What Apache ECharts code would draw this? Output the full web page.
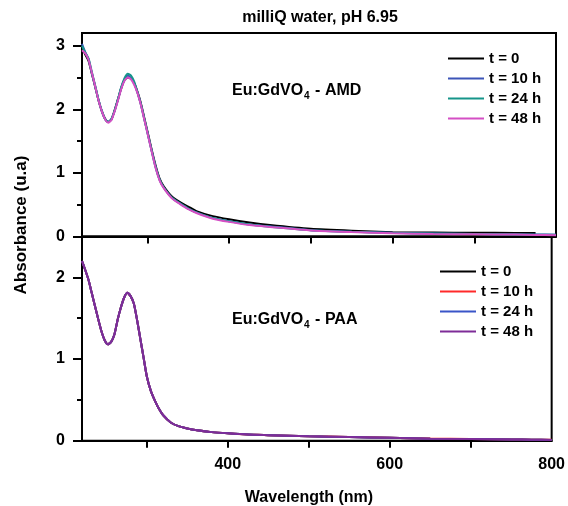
<!DOCTYPE html>
<html>
<head>
<meta charset="utf-8">
<script src="https://cdn.jsdelivr.net/npm/echarts@6/dist/echarts.min.js"></script>
<style>
  html, body { margin: 0; padding: 0; background: #fff; }
  #main { width: 568px; height: 506px; }
</style>
</head>
<body>
<div id="main"></div>
<script>
// wavelengths (nm)
var wl = [220, 224, 228, 232, 236, 240, 244, 248, 252, 256, 260, 264, 268, 272, 276, 280, 284, 288, 292, 296,
          300, 305, 310, 315, 320, 330, 340, 350, 360, 380, 400, 425, 450, 500, 550, 600, 650, 700, 750, 775, 800];

// Eu:GdVO4 - AMD
var amdNames = ['t = 0', 't = 10 h', 't = 24 h', 't = 48 h'];
var amdColors = ['#000000', '#3c55b8', '#16958a', '#d44fc4'];
var amd_t0 = [2.97, 2.86, 2.76, 2.56, 2.36, 2.15, 1.98, 1.86, 1.80, 1.84, 1.99, 2.16, 2.33, 2.46, 2.50, 2.48, 2.41, 2.27, 2.10, 1.88,
              1.66, 1.38, 1.12, 0.91, 0.79, 0.63, 0.54, 0.47, 0.40, 0.32, 0.27, 0.22, 0.18, 0.12, 0.09, 0.068, 0.062, 0.059, 0.057, 0.056, null];
var amd_t10 = [3.03, 2.90, 2.79, 2.57, 2.37, 2.16, 1.98, 1.85, 1.80, 1.84, 1.98, 2.15, 2.34, 2.47, 2.53, 2.49, 2.40, 2.26, 2.08, 1.86,
               1.64, 1.36, 1.10, 0.89, 0.77, 0.61, 0.52, 0.44, 0.38, 0.29, 0.24, 0.19, 0.16, 0.10, 0.075, 0.058, 0.048, 0.040, 0.034, 0.031, 0.028];
var amd_t24 = [3.00, 2.89, 2.80, 2.59, 2.38, 2.16, 1.99, 1.85, 1.80, 1.85, 1.98, 2.16, 2.35, 2.49, 2.56, 2.53, 2.43, 2.26, 2.08, 1.86,
               1.64, 1.36, 1.09, 0.89, 0.77, 0.61, 0.52, 0.44, 0.38, 0.29, 0.24, 0.19, 0.155, 0.10, 0.073, 0.056, 0.046, 0.038, 0.032, 0.029, 0.026];
var amd_t48 = [2.93, 2.88, 2.78, 2.58, 2.37, 2.15, 1.98, 1.85, 1.79, 1.83, 1.97, 2.14, 2.32, 2.45, 2.50, 2.47, 2.38, 2.25, 2.07, 1.85,
               1.63, 1.35, 1.08, 0.88, 0.76, 0.60, 0.51, 0.43, 0.37, 0.28, 0.23, 0.18, 0.15, 0.095, 0.07, 0.05, 0.04, 0.035, 0.03, 0.025, 0.02];

// Eu:GdVO4 - PAA
var paaNames = ['t = 0', 't = 10 h', 't = 24 h', 't = 48 h'];
var paaColors = ['#000000', '#ff2a2a', '#3a55c8', '#7e2c98'];
var paa_t0 = [2.20, 2.09, 1.97, 1.81, 1.65, 1.49, 1.34, 1.23, 1.18, 1.21, 1.30, 1.48, 1.63, 1.75, 1.81, 1.77, 1.68, 1.48, 1.25, 1.02,
              0.79, 0.61, 0.49, 0.39, 0.315, 0.22, 0.175, 0.15, 0.13, 0.105, 0.09, 0.075, 0.068, 0.055, 0.045, 0.035, 0.025, 0.02, 0.015, 0.012, 0.01];
var paa_t10 = [2.20, 2.09, 1.97, 1.81, 1.65, 1.49, 1.34, 1.23, 1.18, 1.21, 1.30, 1.48, 1.63, 1.75, 1.81, 1.77, 1.68, 1.48, 1.25, 1.02,
               0.79, 0.61, 0.49, 0.39, 0.315, 0.22, 0.175, 0.15, 0.13, 0.105, 0.09, 0.076, 0.068, 0.056, 0.046, 0.036, 0.026, 0.021, 0.016, 0.013, 0.011];
var paa_t24 = [2.20, 2.09, 1.97, 1.81, 1.65, 1.49, 1.34, 1.23, 1.18, 1.21, 1.30, 1.48, 1.63, 1.75, 1.81, 1.77, 1.68, 1.48, 1.25, 1.02,
               0.79, 0.61, 0.49, 0.39, 0.315, 0.22, 0.175, 0.15, 0.13, 0.105, 0.09, 0.075, 0.068, 0.055, 0.045, 0.035, 0.025, 0.02, 0.015, 0.012, 0.01];
var paa_t48 = [2.20, 2.09, 1.97, 1.81, 1.65, 1.49, 1.34, 1.23, 1.18, 1.21, 1.30, 1.48, 1.63, 1.75, 1.81, 1.77, 1.68, 1.48, 1.25, 1.02,
               0.79, 0.61, 0.49, 0.39, 0.315, 0.22, 0.175, 0.15, 0.13, 0.105, 0.09, 0.075, 0.068, 0.055, 0.045, 0.035, 0.025, 0.02, 0.015, 0.012, 0.01];

// ticks
var xTicks = [300, 400, 500, 600, 700];
var xLabels = [400, 600, 800];
var yTopMajor = [0, 1, 2, 3];
var yTopMinor = [0.5, 1.5, 2.5];
var yBotMajor = [0, 1, 2];
var yBotMinor = [0.5, 1.5];

var FONT = '"Liberation Sans", Arial, sans-serif';

function pairs(ys) {
    return wl.map(function (x, i) { return [x, ys[i]]; });
}

function line(name, color, ys, xi, yi) {
    return {
        name: name,
        type: 'line',
        xAxisIndex: xi,
        yAxisIndex: yi,
        data: pairs(ys),
        symbol: 'none',
        smooth: 0.2,
        connectNulls: false,
        lineStyle: { color: color, width: 2 },
        itemStyle: { color: color }
    };
}

function xAx(grid, labels) {
    return {
        type: 'value', gridIndex: grid, min: 220, max: 800,
        axisLine: { lineStyle: { color: '#000', width: 2 } },
        axisTick: { customValues: xTicks, length: 7, lineStyle: { color: '#000', width: 2 } },
        axisLabel: labels ? { customValues: xLabels, color: '#000', fontSize: 16, fontWeight: 'bold', fontFamily: FONT, margin: 16 } : { show: false },
        splitLine: { show: false }
    };
}

function yAx(grid, max, major) {
    return {
        type: 'value', gridIndex: grid, min: 0, max: max,
        axisLine: { show: true, lineStyle: { color: '#000', width: 2 } },
        axisTick: { customValues: major, length: 9, lineStyle: { color: '#000', width: 2 } },
        axisLabel: { customValues: major, color: '#000', fontSize: 16, fontWeight: 'bold', fontFamily: FONT, margin: 17 },
        splitLine: { show: false }
    };
}

function yMinor(grid, max, minor) {
    return {
        type: 'value', gridIndex: grid, min: 0, max: max, position: 'left',
        axisLine: { show: false },
        axisTick: { show: true, customValues: minor, length: 5, lineStyle: { color: '#000', width: 2 } },
        axisLabel: { show: false },
        splitLine: { show: false }
    };
}

var series = [];
var amdData = [amd_t0, amd_t10, amd_t24, amd_t48];
var paaData = [paa_t0, paa_t10, paa_t24, paa_t48];
amdNames.forEach(function (n, i) { series.push(line('AMD|' + n, amdColors[i], amdData[i], 0, 0)); });
paaNames.forEach(function (n, i) { series.push(line('PAA|' + n, paaColors[i], paaData[i], 1, 2)); });

function legend(prefix, names, left, top) {
    return {
        data: names.map(function (n) { return prefix + '|' + n; }),
        orient: 'vertical', left: left, top: top, padding: 0,
        icon: 'rect', itemWidth: 36, itemHeight: 2, itemGap: 5,
        selectedMode: false,
        formatter: function (name) { return name.split('|')[1]; },
        textStyle: { color: '#000', fontSize: 15, fontWeight: 'bold', fontFamily: FONT, lineHeight: 14 }
    };
}

function label(text, x, y) {
    return {
        type: 'text', left: x, top: y,
        style: {
            text: '{a|' + text[0] + '}{s|4}{a|' + text[1] + '}',
            rich: {
                a: { fontSize: 16, fontWeight: 'bold', fontFamily: FONT, fill: '#000', lineHeight: 20 },
                s: { fontSize: 10, fontWeight: 'bold', fontFamily: FONT, fill: '#000', verticalAlign: 'bottom', padding: [6, 1, 0, 1] }
            }
        }
    };
}

var myChart = echarts.init(document.getElementById('main'));
var option = {
    animation: false,
    backgroundColor: '#fff',
    grid: [
        { left: 82, right: 12, top: 33, height: 203.5, show: true, borderColor: '#000', borderWidth: 2, backgroundColor: 'transparent' },
        { left: 82, right: 12, top: 236.5, height: 204.2, show: true, borderColor: '#000', borderWidth: 2, backgroundColor: 'transparent' }
    ],
    xAxis: [xAx(0, false), xAx(1, true)],
    yAxis: [yAx(0, 3.2, yTopMajor), yMinor(0, 3.2, yTopMinor), yAx(1, 2.5, yBotMajor), yMinor(1, 2.5, yBotMinor)],
    legend: [legend('AMD', amdNames, 448, 51), legend('PAA', paaNames, 440, 264)],
    series: series,
    graphic: [
        { type: 'text', x: 320, y: 18, style: { text: 'milliQ water, pH 6.95', fontSize: 16, fontWeight: 'bold', fontFamily: FONT, fill: '#000', align: 'center', verticalAlign: 'middle' } },
        { type: 'text', x: 21, y: 225, rotation: Math.PI / 2, style: { text: 'Absorbance (u.a)', fontSize: 17, fontWeight: 'bold', fontFamily: FONT, fill: '#000', align: 'center', verticalAlign: 'middle' } },
        { type: 'text', x: 309, y: 498, style: { text: 'Wavelength (nm)', fontSize: 16, fontWeight: 'bold', fontFamily: FONT, fill: '#000', align: 'center', verticalAlign: 'middle' } },
        label(['Eu:GdVO', ' - AMD'], 232, 83),
        label(['Eu:GdVO', ' - PAA'], 232, 312)
    ]
};
myChart.setOption(option);
window.onresize = function () { myChart.resize(); };
</script>
</body>
</html>
